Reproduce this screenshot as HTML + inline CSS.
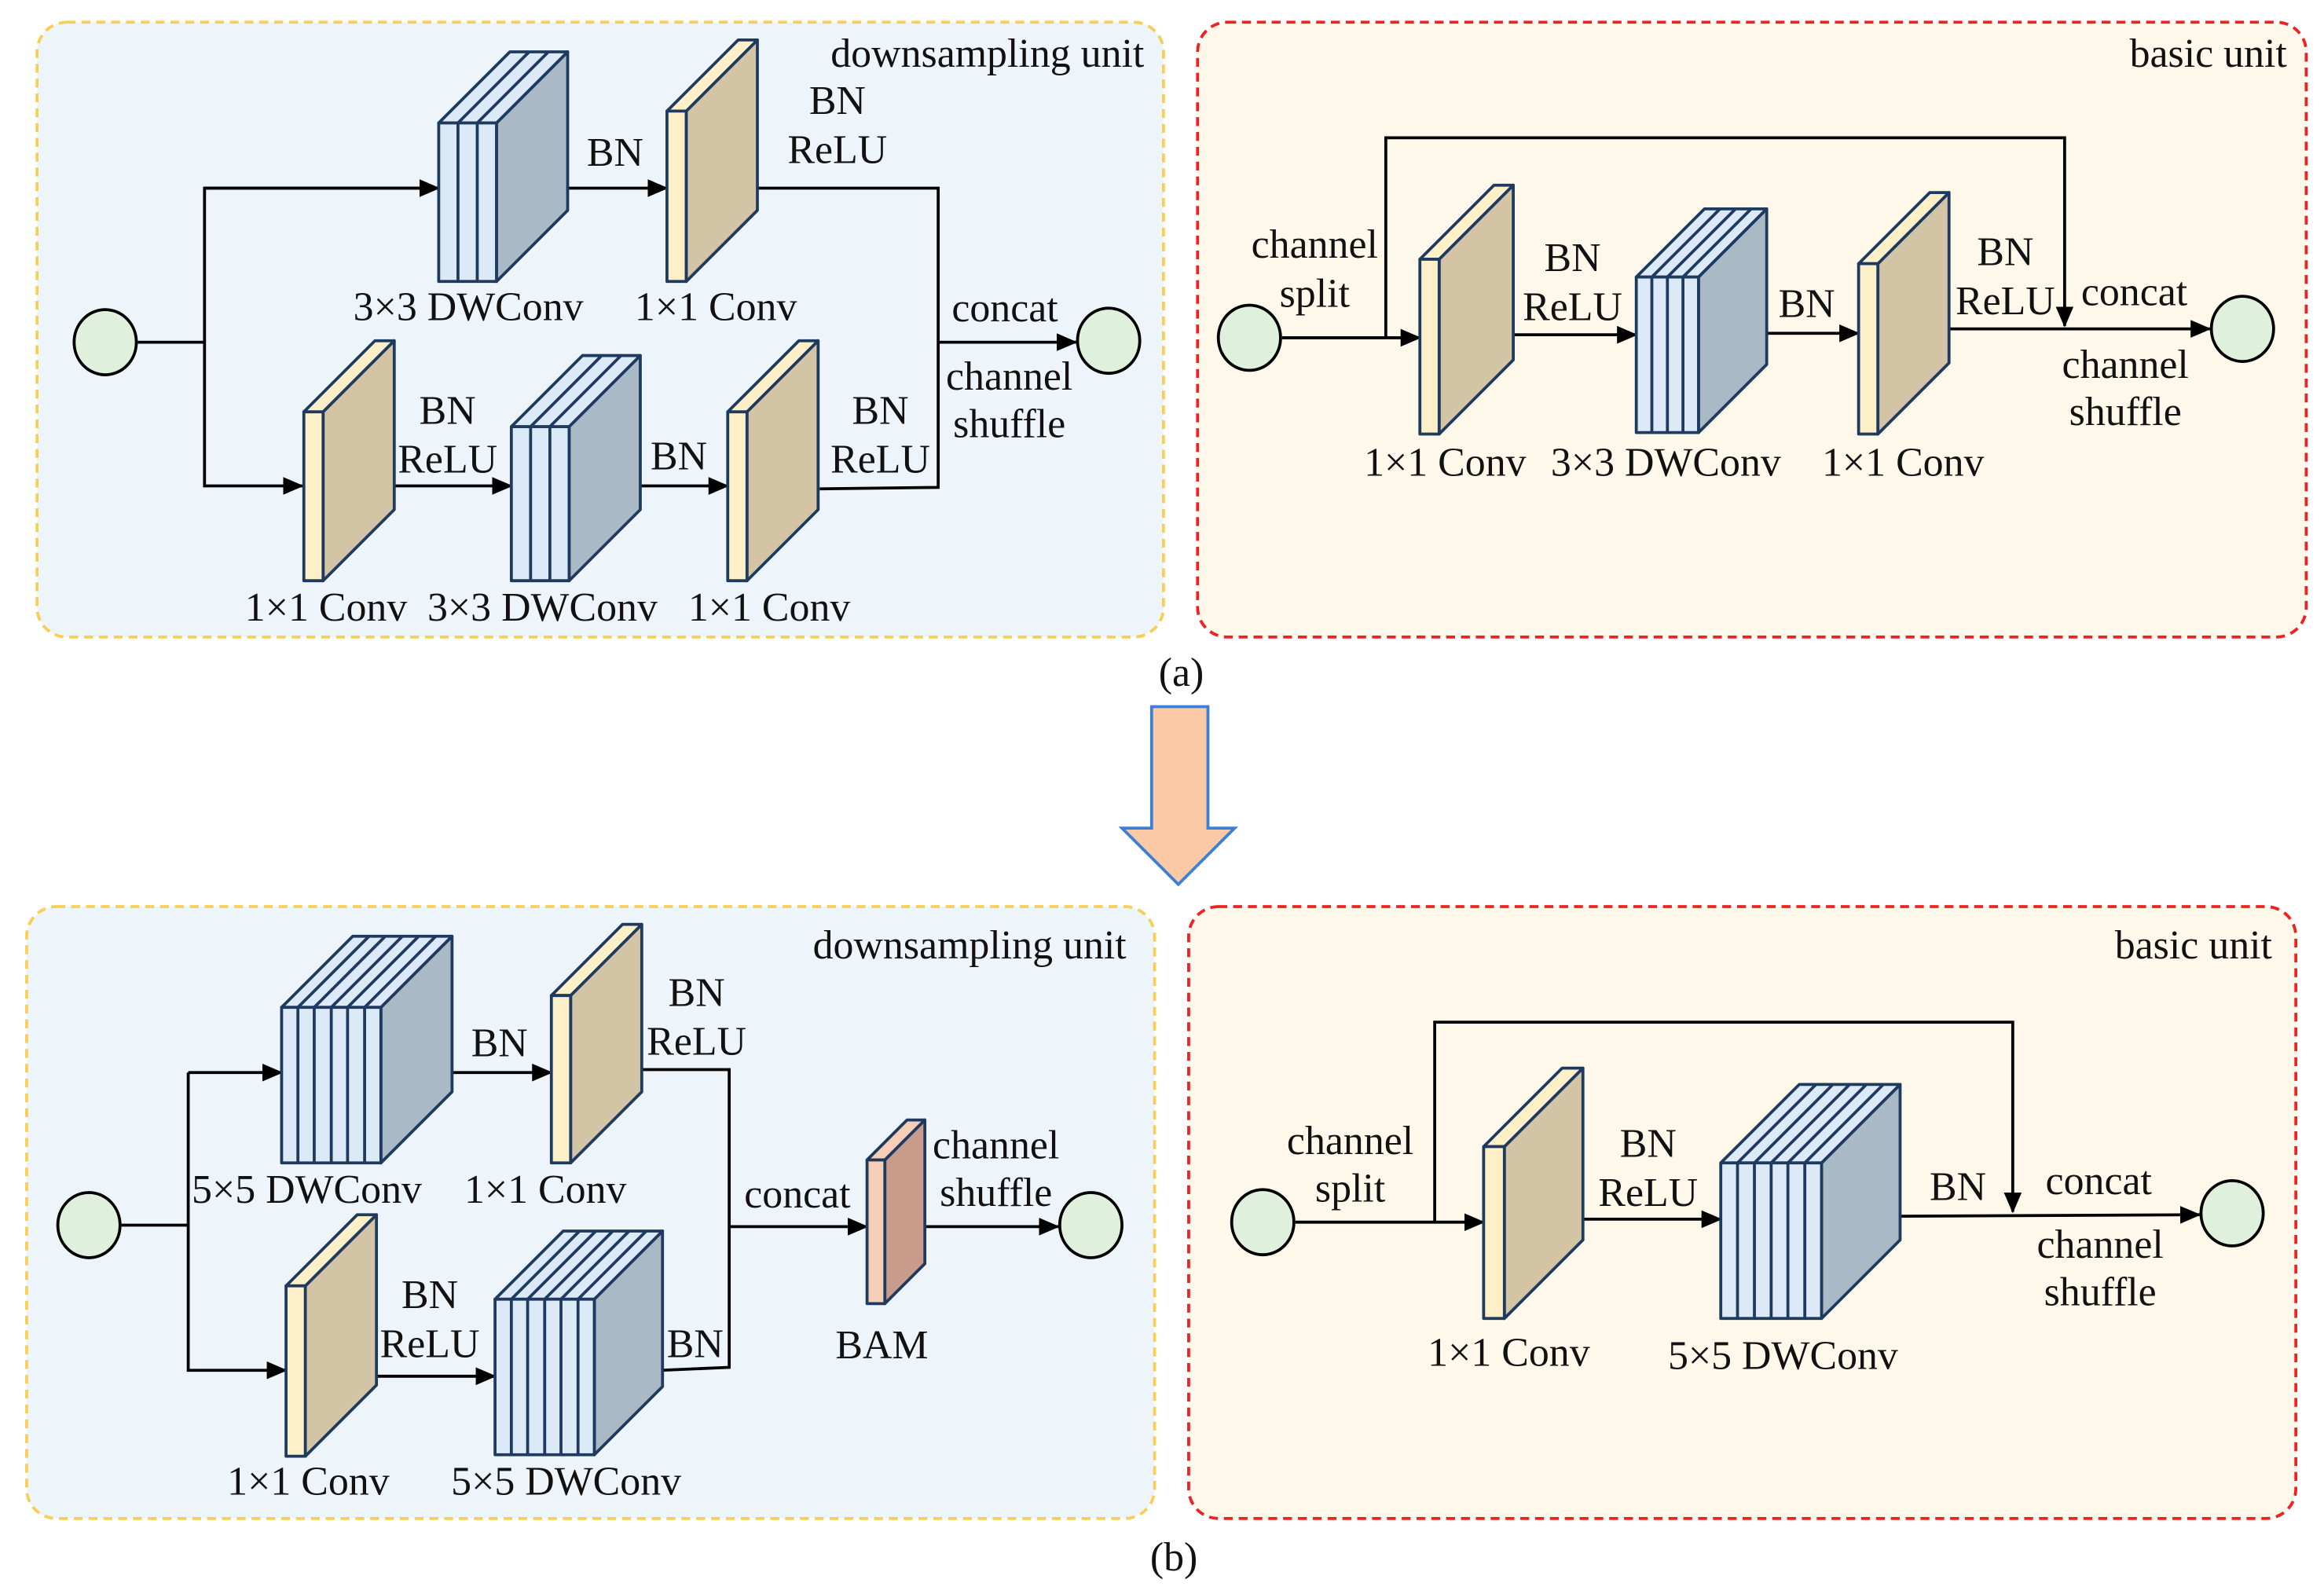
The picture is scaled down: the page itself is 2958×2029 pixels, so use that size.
<!DOCTYPE html>
<html><head><meta charset="utf-8"><style>
html,body{margin:0;padding:0;background:#fff}
svg{display:block}
text{font-family:"Liberation Serif",serif;font-size:27.5px;fill:#111}
</style></head><body>
<svg width="2958" height="2029" viewBox="0 0 1568 1076" preserveAspectRatio="none" xmlns="http://www.w3.org/2000/svg">
<defs>
<marker id="ar" markerWidth="14" markerHeight="12" refX="13" refY="6" orient="auto" markerUnits="userSpaceOnUse">
<path d="M0,0 L14,6 L0,12 Z" fill="#000"/></marker>
</defs>
<rect x="25" y="15" width="760" height="415" rx="20" fill="#eef5fa" stroke="#f7cf55" stroke-width="2" stroke-dasharray="6 4"/>
<rect x="808" y="15" width="748" height="415" rx="20" fill="#fdf8ea" stroke="#ee2222" stroke-width="2" stroke-dasharray="6 4"/>
<rect x="18" y="612" width="761" height="413" rx="20" fill="#eef5fa" stroke="#f7cf55" stroke-width="2" stroke-dasharray="6 4"/>
<rect x="802" y="612" width="747" height="413" rx="20" fill="#fdf8ea" stroke="#ee2222" stroke-width="2" stroke-dasharray="6 4"/>
<text x="797" y="463" text-anchor="middle">(a)</text>
<text x="792" y="1060" text-anchor="middle">(b)</text>
<polygon points="777,477 815,477 815,559 833,559 795,597 757,559 777,559" fill="#fbc9a5" stroke="#3b7fd6" stroke-width="2"/>

<g stroke="#000" stroke-width="2" fill="none">
<polyline points="93,231 138,231"/>
<polyline points="296,127 138,127 138,328 204,328" marker-end="url(#ar)"/>
<line x1="138" y1="127" x2="296" y2="127" marker-end="url(#ar)"/>
<line x1="383" y1="127" x2="450" y2="127" marker-end="url(#ar)"/>
<polyline points="511,127 633,127 633,329 553,330"/>
<line x1="266" y1="328" x2="345" y2="328" marker-end="url(#ar)"/>
<line x1="432" y1="328" x2="491" y2="328" marker-end="url(#ar)"/>
<line x1="633" y1="231" x2="726" y2="231" marker-end="url(#ar)"/>
<line x1="865" y1="228" x2="958" y2="228" marker-end="url(#ar)"/>
<polyline points="935,228 935,93 1393,93 1393,220" marker-end="url(#ar)"/>
<line x1="1021" y1="226" x2="1104" y2="226" marker-end="url(#ar)"/>
<line x1="1192" y1="225" x2="1254" y2="225" marker-end="url(#ar)"/>
<line x1="1315" y1="222" x2="1491" y2="222" marker-end="url(#ar)"/>
<line x1="82" y1="827" x2="127" y2="827"/>
<polyline points="127,724 127,925 193,925" marker-end="url(#ar)"/>
<line x1="127" y1="724" x2="190" y2="724" marker-end="url(#ar)"/>
<line x1="305" y1="724" x2="372" y2="724" marker-end="url(#ar)"/>
<polyline points="433,722 492,722 492,923 446,925"/>
<line x1="254" y1="929" x2="334" y2="929" marker-end="url(#ar)"/>
<line x1="492" y1="828" x2="585" y2="828" marker-end="url(#ar)"/>
<line x1="624" y1="828" x2="714" y2="828" marker-end="url(#ar)"/>
<line x1="874" y1="825" x2="1001" y2="825" marker-end="url(#ar)"/>
<polyline points="968,825 968,690 1358,690 1358,818" marker-end="url(#ar)"/>
<line x1="1068" y1="823" x2="1161" y2="823" marker-end="url(#ar)"/>
<line x1="1282" y1="821" x2="1484" y2="820" marker-end="url(#ar)"/>
</g>

<g fill="#dff0dc" stroke="#000" stroke-width="2">
<ellipse cx="71" cy="231" rx="21" ry="22"/>
<ellipse cx="748" cy="230" rx="21" ry="22"/>
<ellipse cx="843" cy="228" rx="21" ry="22"/>
<ellipse cx="1513" cy="222" rx="21" ry="22"/>
<ellipse cx="60" cy="827" rx="21" ry="22"/>
<ellipse cx="736" cy="827" rx="21" ry="22"/>
<ellipse cx="852" cy="825" rx="21" ry="22"/>
<ellipse cx="1506" cy="819" rx="21" ry="22"/>
</g>

<g stroke="#1f3a5f" stroke-width="2" stroke-linejoin="round">
<g><polygon points="463,75 511,27 511,142 463,190" fill="#d3c4a5"/><polygon points="450,75 498,27 511,27 463,75" fill="#fdf0c8"/><rect x="450" y="75" width="13" height="115" fill="#fdf0c8"/></g>
<g><polygon points="218,278 266,230 266,344 218,392" fill="#d3c4a5"/><polygon points="205,278 253,230 266,230 218,278" fill="#fdf0c8"/><rect x="205" y="278" width="13" height="114" fill="#fdf0c8"/></g>
<g><polygon points="504,278 552,230 552,344 504,392" fill="#d3c4a5"/><polygon points="491,278 539,230 552,230 504,278" fill="#fdf0c8"/><rect x="491" y="278" width="13" height="114" fill="#fdf0c8"/></g>
<g><polygon points="971,175 1021,125 1021,243 971,293" fill="#d3c4a5"/><polygon points="958,175 1008,125 1021,125 971,175" fill="#fdf0c8"/><rect x="958" y="175" width="13" height="118" fill="#fdf0c8"/></g>
<g><polygon points="1267,178 1315,130 1315,245 1267,293" fill="#d3c4a5"/><polygon points="1254,178 1302,130 1315,130 1267,178" fill="#fdf0c8"/><rect x="1254" y="178" width="13" height="115" fill="#fdf0c8"/></g>
<g><polygon points="385,672 433,624 433,737 385,785" fill="#d3c4a5"/><polygon points="372,672 420,624 433,624 385,672" fill="#fdf0c8"/><rect x="372" y="672" width="13" height="113" fill="#fdf0c8"/></g>
<g><polygon points="206,868 254,820 254,935 206,983" fill="#d3c4a5"/><polygon points="193,868 241,820 254,820 206,868" fill="#fdf0c8"/><rect x="193" y="868" width="13" height="115" fill="#fdf0c8"/></g>
<g><polygon points="1015,774 1068,721 1068,837 1015,890" fill="#d3c4a5"/><polygon points="1001,774 1054,721 1068,721 1015,774" fill="#fdf0c8"/><rect x="1001" y="774" width="14" height="116" fill="#fdf0c8"/></g>
<g><polygon points="597,783 624,756 624,853 597,880" fill="#c99b8b"/><polygon points="585,783 612,756 624,756 597,783" fill="#f6cdb6"/><rect x="585" y="783" width="12" height="97" fill="#f6cdb6"/></g>

<g><polygon points="335,83 383,35 383,142 335,190" fill="#aab9c6"/><polygon points="296,83 344,35 383,35 335,83" fill="#dce9f6"/><rect x="296" y="83" width="39" height="107" fill="#dce9f6"/>
<path d="M309,83V190M322,83V190M309,83L357,35M322,83L370,35" fill="none"/></g>
<g><polygon points="384,288 432,240 432,344 384,392" fill="#aab9c6"/><polygon points="345,288 393,240 432,240 384,288" fill="#dce9f6"/><rect x="345" y="288" width="39" height="104" fill="#dce9f6"/>
<path d="M358,288V392M371,288V392M358,288L406,240M371,288L419,240" fill="none"/></g>
<g><polygon points="1146,187 1192,141 1192,246 1146,292" fill="#aab9c6"/><polygon points="1104,187 1150,141 1192,141 1146,187" fill="#dce9f6"/><rect x="1104" y="187" width="42" height="105" fill="#dce9f6"/>
<path d="M1114.5,187V292M1125,187V292M1135.5,187V292M1114.5,187L1160.5,141M1125,187L1171,141M1135.5,187L1181.5,141" fill="none"/></g>
<g><polygon points="257,680 305,632 305,737 257,785" fill="#aab9c6"/><polygon points="190,680 238,632 305,632 257,680" fill="#dce9f6"/><rect x="190" y="680" width="67" height="105" fill="#dce9f6"/>
<path d="M201,680V785M212,680V785M223.5,680V785M234.5,680V785M246,680V785M201,680L249,632M212,680L260,632M223.5,680L271.5,632M234.5,680L282.5,632M246,680L294,632" fill="none"/></g>
<g><polygon points="401,877 447,831 447,936 401,982" fill="#aab9c6"/><polygon points="334,877 380,831 447,831 401,877" fill="#dce9f6"/><rect x="334" y="877" width="67" height="105" fill="#dce9f6"/>
<path d="M345,877V982M356,877V982M367.5,877V982M378.5,877V982M390,877V982M345,877L391,831M356,877L402,831M367.5,877L413.5,831M378.5,877L424.5,831M390,877L436,831" fill="none"/></g>
<g><polygon points="1229,785 1282,732 1282,837 1229,890" fill="#aab9c6"/><polygon points="1161,785 1214,732 1282,732 1229,785" fill="#dce9f6"/><rect x="1161" y="785" width="68" height="105" fill="#dce9f6"/>
<path d="M1172.3,785V890M1183.7,785V890M1195,785V890M1206.3,785V890M1217.7,785V890M1172.3,785L1225.3,732M1183.7,785L1236.7,732M1195,785L1248,732M1206.3,785L1259.3,732M1217.7,785L1270.7,732" fill="none"/></g>
</g>

<g text-anchor="middle">
<text x="316" y="216">3×3 DWConv</text>
<text x="483" y="216">1×1 Conv</text>
<text x="415" y="112">BN</text>
<text x="565" y="77">BN</text><text x="565" y="110">ReLU</text>
<text x="220" y="419">1×1 Conv</text>
<text x="366" y="419">3×3 DWConv</text>
<text x="519" y="419">1×1 Conv</text>
<text x="302" y="286">BN</text><text x="302" y="319">ReLU</text>
<text x="458" y="317">BN</text>
<text x="594" y="286">BN</text><text x="594" y="319">ReLU</text>
<text x="678" y="217">concat</text>
<text x="681" y="263">channel</text><text x="681" y="295">shuffle</text>

<text x="887" y="174">channel</text><text x="887" y="207">split</text>
<text x="975" y="321">1×1 Conv</text>
<text x="1124" y="321">3×3 DWConv</text>
<text x="1284" y="321">1×1 Conv</text>
<text x="1061" y="183">BN</text><text x="1061" y="216">ReLU</text>
<text x="1219" y="214">BN</text>
<text x="1353" y="179">BN</text><text x="1353" y="212">ReLU</text>
<text x="1440" y="206">concat</text>
<text x="1434" y="255">channel</text><text x="1434" y="287">shuffle</text>

<text x="207" y="812">5×5 DWConv</text>
<text x="368" y="812">1×1 Conv</text>
<text x="337" y="713">BN</text>
<text x="470" y="679">BN</text><text x="470" y="712">ReLU</text>
<text x="208" y="1009">1×1 Conv</text>
<text x="382" y="1009">5×5 DWConv</text>
<text x="290" y="883">BN</text><text x="290" y="916">ReLU</text>
<text x="469" y="916">BN</text>
<text x="538" y="815">concat</text>
<text x="595" y="917">BAM</text>
<text x="672" y="782">channel</text><text x="672" y="814">shuffle</text>

<text x="911" y="779">channel</text><text x="911" y="811">split</text>
<text x="1018" y="922">1×1 Conv</text>
<text x="1203" y="924">5×5 DWConv</text>
<text x="1112" y="781">BN</text><text x="1112" y="814">ReLU</text>
<text x="1321" y="810">BN</text>
<text x="1416" y="806">concat</text>
<text x="1417" y="849">channel</text><text x="1417" y="881">shuffle</text>
</g>
<g text-anchor="end">
<text x="772" y="45">downsampling unit</text>
<text x="1543" y="45">basic unit</text>
<text x="760" y="647">downsampling unit</text>
<text x="1533" y="647">basic unit</text>
</g>
</svg>
</body></html>
